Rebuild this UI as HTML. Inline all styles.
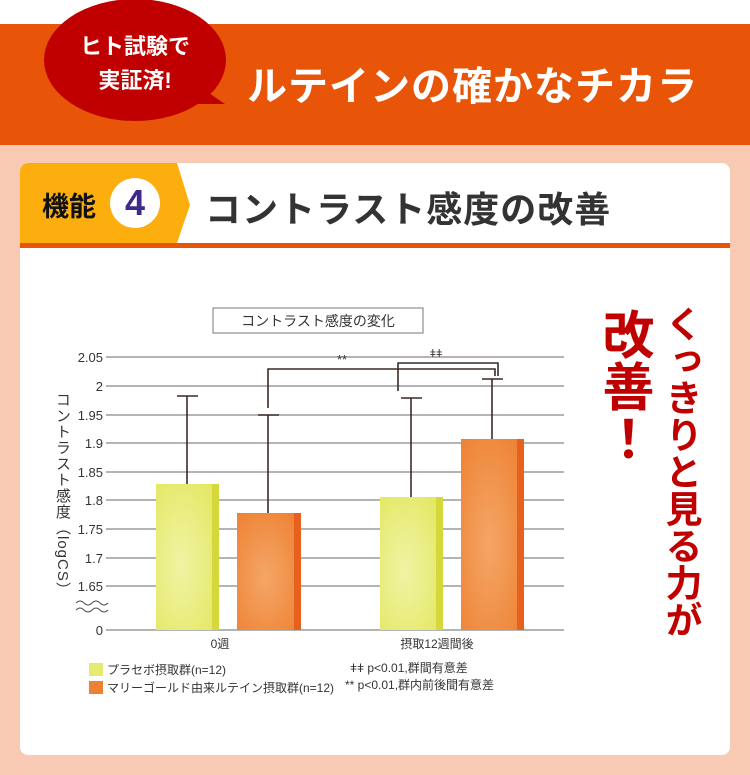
<!DOCTYPE html>
<html><head><meta charset="utf-8"><style>
*{margin:0;padding:0;box-sizing:border-box}
body{width:750px;height:775px;position:relative;background:#f8cab4;font-family:"Liberation Sans","Noto Sans CJK JP",sans-serif;overflow:hidden}
.abs{position:absolute}
</style></head><body>
<div class="abs" style="left:0;top:0;width:750px;height:24px;background:#fff"></div>
<div class="abs" style="left:0;top:24px;width:750px;height:121px;background:#e85508"></div>
<svg class="abs" style="left:0;top:0" width="750" height="145">
<ellipse cx="135" cy="60" rx="91" ry="61" fill="#c00000"/>
<polygon points="190,80 225,104 170,104" fill="#c00000"/>
</svg>
<div class="abs" style="left:60px;top:30px;width:150px;text-align:center;color:#fff;font-size:22px;font-weight:bold;line-height:34px">ヒト試験で<br>実証済!</div>
<div class="abs" style="left:247px;top:62px;color:#fff;font-size:40px;font-weight:bold;letter-spacing:1px;line-height:50px">ルテインの確かなチカラ</div>

<div class="abs" style="left:20px;top:163px;width:710px;height:592px;background:#fff;border-radius:8px;overflow:hidden">
<svg class="abs" style="left:0;top:0" width="200" height="85"><polygon points="0,0 157,0 170,42 157,80 0,80" fill="#fbae0d"/></svg>
<div class="abs" style="left:0;top:80px;width:710px;height:5px;background:#e85508"></div>
<div class="abs" style="left:22px;top:22px;font-size:27px;font-weight:bold;color:#111">機能</div>
<div class="abs" style="left:90px;top:15px;width:50px;height:50px;border-radius:50%;background:#fff;color:#3d2a8a;font-size:36px;font-weight:bold;text-align:center;line-height:50px">4</div>
<div class="abs" style="left:185px;top:18px;font-size:36px;font-weight:bold;color:#333;letter-spacing:1px">コントラスト感度の改善</div>
</div>

<svg class="abs" style="left:0;top:0" width="750" height="775" font-family="Liberation Sans, Noto Sans CJK JP, sans-serif">
<defs>
<radialGradient id="gy" cx="0.4" cy="0.55" r="0.7"><stop offset="0" stop-color="#f1f3a4"/><stop offset="1" stop-color="#e3e864"/></radialGradient>
<radialGradient id="go" cx="0.45" cy="0.55" r="0.7"><stop offset="0" stop-color="#f4a666"/><stop offset="1" stop-color="#ee8234"/></radialGradient>
</defs>
<rect x="213" y="308" width="210" height="25" fill="#fff" stroke="#777" stroke-width="1"/>
<text x="318" y="326" font-size="14" text-anchor="middle" fill="#333">コントラスト感度の変化</text>
<g stroke="#888" stroke-width="1.2">
<line x1="106" y1="357" x2="564" y2="357"/><line x1="106" y1="386" x2="564" y2="386"/>
<line x1="106" y1="415" x2="564" y2="415"/><line x1="106" y1="443" x2="564" y2="443"/>
<line x1="106" y1="472" x2="564" y2="472"/><line x1="106" y1="500" x2="564" y2="500"/>
<line x1="106" y1="529" x2="564" y2="529"/><line x1="106" y1="558" x2="564" y2="558"/>
<line x1="106" y1="586" x2="564" y2="586"/><line x1="106" y1="630" x2="564" y2="630"/>
</g>
<g font-size="13" fill="#333" text-anchor="end">
<text x="103" y="362">2.05</text><text x="103" y="391">2</text><text x="103" y="420">1.95</text>
<text x="103" y="448">1.9</text><text x="103" y="477">1.85</text><text x="103" y="505">1.8</text>
<text x="103" y="534">1.75</text><text x="103" y="563">1.7</text><text x="103" y="591">1.65</text>
<text x="103" y="635">0</text></g>
<path d="M76,603 q4,-4 8,0 t8,0 t8,0 t8,0 M76,610 q4,-4 8,0 t8,0 t8,0 t8,0" stroke="#555" fill="none" stroke-width="1"/>
<rect x="156" y="484" width="63" height="146" fill="url(#gy)"/><rect x="212" y="484" width="7" height="146" fill="#d4d83a"/>
<rect x="237" y="513" width="64" height="117" fill="url(#go)"/><rect x="294" y="513" width="7" height="117" fill="#e8601e"/>
<rect x="380" y="497" width="63" height="133" fill="url(#gy)"/><rect x="436" y="497" width="7" height="133" fill="#d4d83a"/>
<rect x="461" y="439" width="63" height="191" fill="url(#go)"/><rect x="517" y="439" width="7" height="191" fill="#e8601e"/>
<g stroke="#3a2a26" stroke-width="1.6" fill="none">
<line x1="187" y1="396" x2="187" y2="484"/><line x1="177" y1="396" x2="198" y2="396"/>
<line x1="268" y1="415" x2="268" y2="513"/><line x1="258" y1="415" x2="279" y2="415"/>
<line x1="411" y1="398" x2="411" y2="497"/><line x1="401" y1="398" x2="422" y2="398"/>
<line x1="492" y1="379" x2="492" y2="439"/><line x1="482" y1="379" x2="503" y2="379"/>
<polyline points="268,408 268,369 495,369 495,376"/>
<polyline points="398,391 398,363 498,363 498,376"/>
</g>
<text x="342" y="364" font-size="13" fill="#333" text-anchor="middle">**</text>
<text x="436" y="357" font-size="11" fill="#333" text-anchor="middle">ǂǂ</text>
<text x="220" y="648" font-size="12" fill="#333" text-anchor="middle">0週</text>
<text x="437" y="648" font-size="12" fill="#333" text-anchor="middle">摂取12週間後</text>
<rect x="89" y="663" width="14" height="13" fill="#e6ea6e"/>
<rect x="89" y="681" width="14" height="13" fill="#ee8234"/>
<text x="107" y="674" font-size="12" fill="#333">プラセボ摂取群(n=12)</text>
<text x="107" y="692" font-size="12" fill="#333">マリーゴールド由来ルテイン摂取群(n=12)</text>
<text x="350" y="672" font-size="12" fill="#333">ǂǂ p&lt;0.01,群間有意差</text>
<text x="345" y="689" font-size="12" fill="#333">** p&lt;0.01,群内前後間有意差</text>
</svg>
<div class="abs" style="left:54px;top:392px;writing-mode:vertical-rl;font-size:15px;color:#333;line-height:16px;letter-spacing:1px">コントラスト感度（logCS）</div>

<div class="abs" style="left:660px;top:305px;writing-mode:vertical-rl;font-size:37px;font-weight:bold;color:#c00000;line-height:40px">くっきりと見る力が</div>
<div class="abs" style="left:596px;top:308px;writing-mode:vertical-rl;text-orientation:upright;font-size:52px;font-weight:bold;color:#c00000;line-height:54px">改善！</div>
</body></html>
